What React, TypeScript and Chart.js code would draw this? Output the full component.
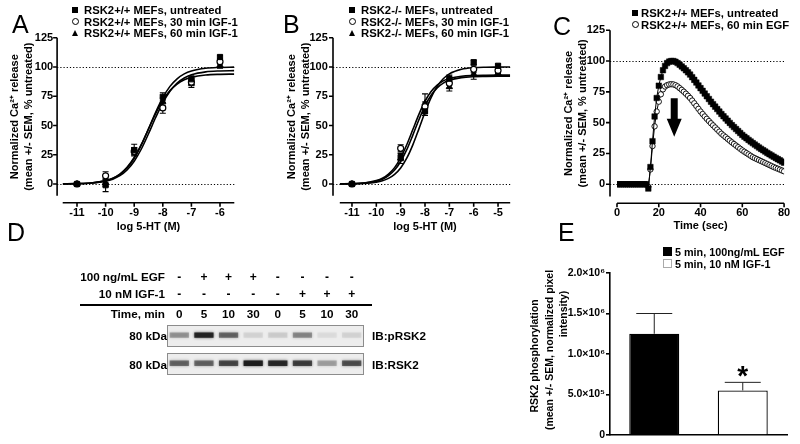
import React, { useEffect, useRef } from 'react';
import { Chart, registerables } from 'chart.js';

Chart.register(...registerables);

const FONT = '"Liberation Sans", Arial, Helvetica, sans-serif';
Chart.defaults.font.family = FONT;
Chart.defaults.color = '#000';

// ---------------- shared ----------------
const pctTicks = [0, 25, 50, 75, 100, 125];
const refLevels = [0, 100];
const CA_TITLE = ['Normalized Ca²⁺ release', '(mean +/- SEM, % untreated)'];

// ---------------- Panel A ----------------
const namesA = ['RSK2+/+ MEFs, untreated', 'RSK2+/+ MEFs, 30 min IGF-1', 'RSK2+/+ MEFs, 60 min IGF-1'];
const doseA = [-11, -10, -9, -8, -7, -6];
const aUntreated = [0, -1, 29, 74.5, 89.5, 108.5];
const aUntreatedSem = [0.6, 5.5, 5, 3.5, 3, 1.5];
const aIgf30 = [0, 7, 28, 65, 87, 104.5];
const aIgf30Sem = [0.6, 3.5, 3, 4.5, 3, 2];
const aIgf60 = [0, 1, 28, 70, 86, 101.5];
const aIgf60Sem = [0.6, 3, 3, 3.5, 3.5, 2.5];
const fitLogA = [-11.5, -11, -10.5, -10, -9.75, -9.5, -9.25, -9, -8.75, -8.5, -8.25, -8, -7.75, -7.5, -7.25, -7, -6.5, -6, -5.5];
const aFitUntreated = [0.1, 0.3, 0.9, 2.7, 4.8, 8.2, 13.7, 22.0, 33.4, 47.1, 61.3, 73.8, 83.4, 89.9, 94.1, 96.6, 98.9, 99.6, 99.9];
const aFitIgf30 = [0.1, 0.2, 0.8, 2.4, 4.1, 7.1, 12.0, 19.5, 29.9, 42.9, 56.8, 69.4, 79.3, 86.2, 90.6, 93.3, 95.8, 96.6, 96.9];
const aFitIgf60 = [0.1, 0.3, 0.9, 2.9, 5.0, 8.5, 14.2, 22.6, 33.8, 47.0, 60.2, 71.4, 79.8, 85.4, 89.0, 91.1, 93.1, 93.7, 93.9];
const logTicksA = [-11, -10, -9, -8, -7, -6];

// ---------------- Panel B ----------------
const namesB = ['RSK2-/- MEFs, untreated', 'RSK2-/- MEFs, 30 min IGF-1', 'RSK2-/- MEFs, 60 min IGF-1'];
const doseB = [-11, -9, -8, -7, -6, -5];
const bUntreated = [0, 23, 62, 90, 104, 101];
const bUntreatedSem = [0.6, 3, 3.5, 3, 2, 1.5];
const bIgf30 = [0, 30.5, 66, 86, 98, 97];
const bIgf30Sem = [0.6, 3, 4, 4, 3, 2];
const bIgf60 = [0, 22, 69, 83, 94, 95];
const bIgf60Sem = [0.6, 4.5, 8, 3.5, 4.5, 2];
const fitLogB = [-11.5, -11, -10.5, -10, -9.75, -9.5, -9.25, -9, -8.75, -8.5, -8.25, -8, -7.75, -7.5, -7.25, -7, -6.5, -6, -5.5, -5, -4.5];
const bFitUntreated = [0.1, 0.2, 0.5, 1.6, 2.7, 4.8, 8.2, 13.7, 22.0, 33.4, 47.1, 61.3, 73.8, 83.4, 89.9, 94.1, 98.0, 99.4, 99.8, 99.9, 100];
const bFitIgf30 = [0.1, 0.3, 0.9, 2.9, 4.9, 8.5, 14.0, 22.3, 33.5, 46.5, 59.5, 70.7, 79.0, 84.5, 88.1, 90.1, 92.1, 92.7, 92.9, 93.0, 93.0];
const bFitIgf60 = [0.1, 0.2, 0.8, 2.4, 4.1, 7.1, 11.9, 19.2, 29.3, 41.8, 54.9, 66.7, 75.8, 82.1, 86.2, 88.6, 90.9, 91.7, 91.9, 92.0, 92.0];
const logTicksB = [-11, -10, -9, -8, -7, -6, -5];

// ---------------- Panel C ----------------
const namesC = ['RSK2+/+ MEFs, untreated', 'RSK2+/+ MEFs, 60 min EGF'];
const cTime = [
  0, 1, 2, 3, 4, 5, 6, 7, 8, 9,
  10, 11, 12, 13, 14, 15, 16, 17, 18, 19,
  20, 21, 22, 23, 24, 25, 26, 27, 28, 29,
  30, 31, 32, 33, 34, 35, 36, 37, 38, 39,
  40, 41, 42, 43, 44, 45, 46, 47, 48, 49,
  50, 51, 52, 53, 54, 55, 56, 57, 58, 59,
  60, 61, 62, 63, 64, 65, 66, 67, 68, 69,
  70, 71, 72, 73, 74, 75, 76, 77, 78, 79,
  80,
];
const cUntreated = [
  0, 0, 0, 0, 0, 0, 0, 0, 0, 0,
  0, 0, 0, 0, 0, -3.5, 14, 35, 55, 70,
  80, 87, 92.5, 96, 98.3, 99.5, 100, 100, 99.4, 98.3,
  97, 95.6, 94.1, 92.5, 90.8, 89, 86.9, 84.7, 82.5, 80.2,
  78, 75.8, 73.6, 71.4, 69.2, 67, 65, 63, 61, 59,
  57, 55.2, 53.4, 51.6, 49.8, 48, 46.4, 44.8, 43.2, 41.6,
  40, 38.6, 37.3, 36, 34.7, 33.4, 32.2, 31, 29.8, 28.7,
  27.6, 26.5, 25.4, 24.4, 23.4, 22.4, 21.4, 20.4, 19.4, 18.4,
  17.5,
];
const cEgf = [
  0, 0, 0, 0, 0, 0, 0, 0, 0, 0,
  0, 0, 0, 0, 0, -2, 12, 31, 47, 59,
  67, 73, 77, 79.3, 80.4, 81, 81.2, 81, 80.4, 79.4,
  78, 76.6, 75.1, 73.5, 71.8, 70, 67.9, 65.7, 63.5, 61.2,
  59, 57, 55, 53.1, 51.3, 49.5, 47.8, 46.1, 44.4, 42.7,
  41, 39.6, 38.2, 36.8, 35.4, 34, 32.7, 31.4, 30.1, 28.8,
  27.5, 26.4, 25.3, 24.2, 23.1, 22, 21.2, 20.4, 19.6, 18.8,
  18, 17.2, 16.4, 15.6, 14.8, 14, 13.3, 12.6, 11.9, 11.2,
  10.5,
];
const timeTicks = [0, 20, 40, 60, 80];

// ---------------- Panel D ----------------
const laneIds = ['1', '2', '3', '4', '5', '6', '7', '8'];
const egfRow = ['-', '+', '+', '+', '-', '-', '-', '-'];
const igfRow = ['-', '-', '-', '-', '-', '+', '+', '+'];
const timeRow = ['0', '5', '10', '30', '0', '5', '10', '30'];
const pRsk2Band = [0.3, 0.9, 0.5, 0.08, 0.1, 0.35, 0.05, 0.08];
const rsk2Band = [0.5, 0.5, 0.65, 0.95, 0.85, 0.7, 0.25, 0.6];
const pBandSpan = [0.42, 0.66];
const tBandSpan = [0.41, 0.66];

// ---------------- Panel E ----------------
const eGroups = ['5 min, 100ng/mL EGF', '5 min, 10 nM IGF-1'];
const ePhospho = [1250000, 550000];
const ePhosphoSem = [250000, 100000];
const eTicks = [0, 500000, 1000000, 1500000, 2000000];
const eTickLabels = ['0', '5.0×10⁵', '1.0×10⁶', '1.5×10⁶', '2.0×10⁶'];
const E_TITLE = ['RSK2 phosphorylation', '(mean +/- SEM, normalized pixel', 'intensity)'];

// ---------------- geometry ----------------
type Geo = { x0: number; y0: number; w: number; h: number; l: number; t: number; r: number; b: number };
const GEO_A: Geo = { x0: 0, y0: 0, w: 270, h: 240, l: 62.7, t: 37.7, r: 234.3, b: 195.7 };
const GEO_B: Geo = { x0: 270, y0: 0, w: 270, h: 240, l: 339.8, t: 37.7, r: 510.2, b: 195.7 };
const GEO_C: Geo = { x0: 540, y0: 0, w: 260, h: 240, l: 617, t: 30.2, r: 787, b: 196.6 };
const GEO_E: Geo = { x0: 520, y0: 230, w: 280, h: 214, l: 610, t: 273, r: 787, b: 435 };
const BOX_BLOT1 = { x0: 167, y0: 325, w: 197, h: 22 };
const BOX_BLOT2 = { x0: 167, y0: 353, w: 197, h: 22 };
const E_TITLE_POS = [
  { x: 534, y: 356 },
  { x: 549, y: 350 },
  { x: 562.5, y: 314 },
];

const TICK_FONT = { family: FONT, size: 11, weight: 'bold' as const };
const TITLE_FONT = { family: FONT, size: 11, weight: 'bold' as const, lineHeight: 1.3 };

// ---------------- plugins ----------------
const gpAxes = {
  id: 'gpAxes',
  beforeDatasetsDraw(chart: any, _a: any, o: any) {
    if (!o || !o.on) return;
    const { ctx, chartArea: ca, scales } = chart;
    const xs = scales.x;
    const ys = scales.y;
    const ax = ca.left - o.gapY;
    const ay = ca.bottom + o.gapX;
    ctx.save();
    ctx.strokeStyle = '#000';
    ctx.lineWidth = 1;
    ctx.setLineDash([1.2, 2]);
    (o.refLines || []).forEach((v: number) => {
      const py = Math.round(ys.getPixelForValue(v)) + 0.5;
      ctx.beginPath();
      ctx.moveTo(ax, py);
      ctx.lineTo(ca.right, py);
      ctx.stroke();
    });
    ctx.setLineDash([]);
    ctx.lineWidth = 1.6;
    ctx.beginPath();
    ctx.moveTo(ax, ca.top);
    ctx.lineTo(ax, ca.bottom);
    ys.ticks.forEach((t: any) => {
      const py = ys.getPixelForValue(t.value);
      ctx.moveTo(ax - o.tick, py);
      ctx.lineTo(ax, py);
    });
    ctx.moveTo(ca.left, ay);
    ctx.lineTo(ca.right, ay);
    xs.ticks.forEach((t: any) => {
      const px = xs.getPixelForValue(t.value);
      ctx.moveTo(px, ay);
      ctx.lineTo(px, ay + o.tick);
    });
    ctx.stroke();
    ctx.restore();
  },
};

const errBars = {
  id: 'errBars',
  beforeDatasetsDraw(chart: any, _a: any, o: any) {
    const { ctx } = chart;
    ctx.save();
    ctx.strokeStyle = (o && o.color) || '#000';
    ctx.lineWidth = (o && o.width) || 1;
    const cap = (o && o.cap) || 3;
    chart.data.datasets.forEach((ds: any, i: number) => {
      if (!ds.sem) return;
      const meta = chart.getDatasetMeta(i);
      const ys = chart.scales[meta.yAxisID];
      meta.data.forEach((el: any, j: number) => {
        const raw = ds.data[j];
        const v = typeof raw === 'number' ? raw : raw.y;
        const s = ds.sem[j];
        if (!s) return;
        const top = ys.getPixelForValue(v + s);
        const bot = ys.getPixelForValue(ds.upOnly ? v : v - s);
        ctx.beginPath();
        ctx.moveTo(el.x, top);
        ctx.lineTo(el.x, bot);
        ctx.moveTo(el.x - cap, top);
        ctx.lineTo(el.x + cap, top);
        if (!ds.upOnly) {
          ctx.moveTo(el.x - cap, bot);
          ctx.lineTo(el.x + cap, bot);
        }
        ctx.stroke();
      });
    });
    ctx.restore();
  },
};

const downArrow = {
  id: 'downArrow',
  afterDatasetsDraw(chart: any, _a: any, o: any) {
    if (!o || o.x === undefined) return;
    const { ctx, scales } = chart;
    const px = scales.x.getPixelForValue(o.x);
    const y0 = scales.y.getPixelForValue(o.from);
    const y1 = scales.y.getPixelForValue(o.to);
    const sw = o.shaft / 2;
    const hw = o.head / 2;
    ctx.save();
    ctx.fillStyle = '#000';
    ctx.beginPath();
    ctx.moveTo(px - sw, y0);
    ctx.lineTo(px + sw, y0);
    ctx.lineTo(px + sw, y1 - o.headLen);
    ctx.lineTo(px + hw, y1 - o.headLen);
    ctx.lineTo(px, y1);
    ctx.lineTo(px - hw, y1 - o.headLen);
    ctx.lineTo(px - sw, y1 - o.headLen);
    ctx.closePath();
    ctx.fill();
    ctx.restore();
  },
};

const starMark = {
  id: 'starMark',
  afterDatasetsDraw(chart: any, _a: any, o: any) {
    if (!o || o.index === undefined) return;
    const { ctx } = chart;
    const ds = chart.data.datasets[0];
    const el = chart.getDatasetMeta(0).data[o.index];
    const py = chart.scales.y.getPixelForValue(ds.data[o.index] + ds.sem[o.index]);
    ctx.save();
    ctx.fillStyle = '#000';
    ctx.font = `bold ${o.size}px ${FONT}`;
    ctx.textAlign = 'center';
    ctx.textBaseline = 'alphabetic';
    ctx.fillText(o.text, el.x, py + o.dy);
    ctx.restore();
  },
};

const blotBg = {
  id: 'blotBg',
  beforeDraw(chart: any, _a: any, o: any) {
    if (!o || !o.on) return;
    const { ctx, width, height } = chart;
    ctx.save();
    ctx.fillStyle = o.bg;
    ctx.fillRect(0, 0, width, height);
    ctx.strokeStyle = o.border;
    ctx.lineWidth = 1;
    ctx.strokeRect(0.5, 0.5, width - 1, height - 1);
    ctx.restore();
  },
  beforeDatasetsDraw(chart: any, _a: any, o: any) {
    if (!o || !o.on) return;
    chart.ctx.save();
    chart.ctx.shadowColor = o.shadow;
    chart.ctx.shadowBlur = o.blur;
  },
  afterDatasetsDraw(chart: any, _a: any, o: any) {
    if (!o || !o.on) return;
    chart.ctx.restore();
  },
};

// ---------------- configs ----------------
function frame(g: Geo) {
  return {
    responsive: false,
    animation: false as const,
    devicePixelRatio: 1,
    events: [] as any[],
    layout: { padding: { left: 0, top: g.t - g.y0, right: g.x0 + g.w - g.r, bottom: 0 } },
  };
}

const MARKERS: Record<string, any> = {
  square: { pointStyle: 'rect', pointRadius: 3.7, backgroundColor: '#000', borderColor: '#000', borderWidth: 1 },
  circle: { pointStyle: 'circle', pointRadius: 3, backgroundColor: '#fff', borderColor: '#000', borderWidth: 1.2 },
  triangle: { pointStyle: 'triangle', pointRadius: 3.6, backgroundColor: '#000', borderColor: '#000', borderWidth: 1 },
};

type Series = { label: string; values: number[]; sem: number[]; marker: string };

function doseChart(g: Geo, p: {
  dose: number[]; series: Series[]; fitX: number[]; fits: number[][];
  xMin: number; xMax: number; xTicks: number[]; gapY: number; gapX: number;
  yTickPad: number; xTickPad: number; yTitlePad: number; xTitlePad: number;
}) {
  const datasets: any[] = p.series.map((s) => ({
    label: s.label,
    data: p.dose.map((x, i) => ({ x, y: s.values[i] })),
    sem: s.sem,
    showLine: false,
    ...MARKERS[s.marker],
  }));
  p.fits.forEach((f) =>
    datasets.push({
      data: p.fitX.map((x, i) => ({ x, y: f[i] })),
      showLine: true,
      pointRadius: 0,
      borderColor: '#000',
      borderWidth: 1.6,
      cubicInterpolationMode: 'monotone',
      fill: false,
    })
  );
  return {
    type: 'scatter',
    data: { datasets },
    options: {
      ...frame(g),
      plugins: {
        legend: { display: false },
        tooltip: { enabled: false },
        gpAxes: { on: true, gapY: p.gapY, gapX: p.gapX, tick: 4, refLines: refLevels },
        errBars: { cap: 3, width: 1.1 },
      },
      scales: {
        x: {
          type: 'linear', min: p.xMin, max: p.xMax,
          afterBuildTicks: (s: any) => { s.ticks = p.xTicks.map((v) => ({ value: v })); },
          grid: { display: false, drawTicks: false },
          border: { display: false },
          ticks: { padding: p.xTickPad, font: TICK_FONT, color: '#000', maxRotation: 0, autoSkip: false, callback: (v: any) => String(v) },
          title: { display: true, text: 'log 5-HT (M)', font: TITLE_FONT, color: '#000', padding: { top: 0, bottom: p.xTitlePad } },
          afterFit: (s: any) => { s.height = g.y0 + g.h - g.b; },
        },
        y: {
          type: 'linear', min: -10, max: 125,
          afterBuildTicks: (s: any) => { s.ticks = pctTicks.map((v) => ({ value: v })); },
          grid: { display: false, drawTicks: false },
          border: { display: false },
          ticks: { padding: p.yTickPad, font: TICK_FONT, color: '#000', callback: (v: any) => String(v) },
          title: { display: true, text: CA_TITLE, font: TITLE_FONT, color: '#000', padding: { top: p.yTitlePad, bottom: 0 } },
          afterFit: (s: any) => { s.width = g.l - g.x0; },
        },
      },
    },
    plugins: [gpAxes, errBars],
  };
}

function makeA() {
  return doseChart(GEO_A, {
    dose: doseA,
    series: [
      { label: namesA[0], values: aUntreated, sem: aUntreatedSem, marker: 'square' },
      { label: namesA[1], values: aIgf30, sem: aIgf30Sem, marker: 'circle' },
      { label: namesA[2], values: aIgf60, sem: aIgf60Sem, marker: 'triangle' },
    ],
    fitX: fitLogA, fits: [aFitUntreated, aFitIgf30, aFitIgf60],
    xMin: -11.5, xMax: -5.5, xTicks: logTicksA, gapY: 5.6, gapX: 7,
    yTickPad: 9.5, xTickPad: 10.2, yTitlePad: 7.5, xTitlePad: 5.5,
  });
}

function makeB() {
  return doseChart(GEO_B, {
    dose: doseB,
    series: [
      { label: namesB[0], values: bUntreated, sem: bUntreatedSem, marker: 'square' },
      { label: namesB[1], values: bIgf30, sem: bIgf30Sem, marker: 'circle' },
      { label: namesB[2], values: bIgf60, sem: bIgf60Sem, marker: 'triangle' },
    ],
    fitX: fitLogB, fits: [bFitUntreated, bFitIgf30, bFitIgf60],
    xMin: -11.5, xMax: -4.5, xTicks: logTicksB, gapY: 6.8, gapX: 7,
    yTickPad: 12, xTickPad: 10.2, yTitlePad: 14.5, xTitlePad: 5.5,
  });
}

function makeC() {
  const g = GEO_C;
  return {
    type: 'scatter',
    data: {
      datasets: [
        {
          label: namesC[0],
          data: cTime.map((x, i) => ({ x, y: cUntreated[i] })),
          showLine: true, borderColor: '#000', borderWidth: 1,
          pointStyle: 'rect', pointRadius: 3.9, pointBackgroundColor: '#000', pointBorderColor: '#000', pointBorderWidth: 0.5,
        },
        {
          label: namesC[1],
          data: cTime.map((x, i) => ({ x, y: cEgf[i] })),
          showLine: true, borderColor: '#000', borderWidth: 1,
          pointStyle: 'circle', pointRadius: 2.7, pointBackgroundColor: '#fff', pointBorderColor: '#000', pointBorderWidth: 0.9,
        },
      ],
    },
    options: {
      ...frame(g),
      plugins: {
        legend: { display: false },
        tooltip: { enabled: false },
        gpAxes: { on: true, gapY: 7, gapX: 6.7, tick: 4, refLines: refLevels },
        downArrow: { x: 27.4, from: 69.7, to: 38.6, shaft: 7, head: 15, headLen: 18 },
      },
      scales: {
        x: {
          type: 'linear', min: 0, max: 80,
          afterBuildTicks: (s: any) => { s.ticks = timeTicks.map((v) => ({ value: v })); },
          grid: { display: false, drawTicks: false },
          border: { display: false },
          ticks: { padding: 9.8, font: TICK_FONT, color: '#000', maxRotation: 0, autoSkip: false, callback: (v: any) => String(v) },
          title: { display: true, text: 'Time (sec)', font: TITLE_FONT, color: '#000', padding: { top: 0, bottom: 6.5 } },
          afterFit: (s: any) => { s.height = g.y0 + g.h - g.b; },
        },
        y: {
          type: 'linear', min: -10, max: 125,
          afterBuildTicks: (s: any) => { s.ticks = pctTicks.map((v) => ({ value: v })); },
          grid: { display: false, drawTicks: false },
          border: { display: false },
          ticks: { padding: 12, font: TICK_FONT, color: '#000', callback: (v: any) => String(v) },
          title: { display: true, text: CA_TITLE, font: TITLE_FONT, color: '#000', padding: { top: 21.5, bottom: 0 } },
          afterFit: (s: any) => { s.width = g.l - g.x0; },
        },
      },
    },
    plugins: [gpAxes, downArrow],
  };
}

function makeE() {
  const g = GEO_E;
  return {
    type: 'bar',
    data: {
      labels: eGroups,
      datasets: [
        {
          data: ePhospho, sem: ePhosphoSem, upOnly: true,
          backgroundColor: ['#000', '#fff'], borderColor: '#000', borderWidth: 1.3,
          barPercentage: 0.565, categoryPercentage: 1,
        },
      ],
    },
    options: {
      ...frame(g),
      plugins: {
        legend: { display: false },
        tooltip: { enabled: false },
        errBars: { cap: 18, width: 1, color: '#222' },
        starMark: { index: 1, text: '*', size: 28, dy: 3 },
      },
      scales: {
        x: {
          grid: { display: false, drawTicks: false },
          border: { display: true, color: '#000', width: 1.6 },
          ticks: { display: false },
          afterFit: (s: any) => { s.height = g.y0 + g.h - g.b; },
        },
        y: {
          min: 0, max: 2000000,
          afterBuildTicks: (s: any) => { s.ticks = eTicks.map((v) => ({ value: v })); },
          grid: { drawOnChartArea: false, drawTicks: true, tickLength: 4, color: '#000', lineWidth: 1.6 },
          border: { display: true, color: '#000', width: 1.6 },
          ticks: { padding: 1, font: { ...TICK_FONT, size: 10.5 }, color: '#000', callback: (v: any) => { const k = eTicks.indexOf(v); return k >= 0 ? eTickLabels[k] : ''; } },
          afterFit: (s: any) => { s.width = g.l - g.x0; },
        },
      },
    },
    plugins: [errBars, starMark],
  };
}

function makeBlot(intensity: number[], span: number[]) {
  return {
    type: 'bar',
    data: {
      labels: laneIds,
      datasets: [
        {
          data: intensity.map(() => span),
          backgroundColor: intensity.map((a) => `rgba(25,25,25,${a})`),
          borderWidth: 0,
          barPercentage: 0.78,
          categoryPercentage: 1,
        },
      ],
    },
    options: {
      responsive: false,
      animation: false as const,
      devicePixelRatio: 1,
      events: [] as any[],
      layout: { padding: 0 },
      plugins: {
        legend: { display: false },
        tooltip: { enabled: false },
        blotBg: { on: true, bg: '#ededed', border: '#8c8c8c', shadow: 'rgba(0,0,0,0.7)', blur: 3 },
      },
      scales: { x: { display: false }, y: { display: false, min: 0, max: 1 } },
    },
    plugins: [blotBg],
  };
}

// ---------------- components ----------------
function ChartCanvas({ box, make }: { box: { x0: number; y0: number; w: number; h: number }; make: () => any }) {
  const ref = useRef<HTMLCanvasElement | null>(null);
  useEffect(() => {
    if (!ref.current) return;
    const chart = new Chart(ref.current, make());
    return () => chart.destroy();
  }, []);
  return (
    <canvas
      ref={ref}
      width={box.w}
      height={box.h}
      style={{ position: 'absolute', left: box.x0, top: box.y0, width: box.w, height: box.h }}
    />
  );
}

function Txt({ x, y, text, align = 'left', size = 11, weight = 'bold' }: { x: number; y: number; text: string; align?: string; size?: number; weight?: string }) {
  const base: any = {
    position: 'absolute', top: y - 8, height: 16, lineHeight: '16px', fontSize: size, fontWeight: weight,
    whiteSpace: 'nowrap', color: '#000', fontFamily: FONT,
  };
  if (align === 'left') base.left = x;
  else if (align === 'right') base.right = 800 - x;
  else { base.left = x - 30; base.width = 60; base.textAlign = 'center'; }
  return <div style={base}>{text}</div>;
}

function VTxt({ x, y, text, size = 10.5 }: { x: number; y: number; text: string; size?: number }) {
  return (
    <div
      style={{
        position: 'absolute', left: x, top: y, transform: 'translate(-50%, -50%) rotate(-90deg)',
        whiteSpace: 'nowrap', fontSize: size, lineHeight: '14px', fontWeight: 'bold', fontFamily: FONT, color: '#000',
      }}
    >
      {text}
    </div>
  );
}

function Marker({ kind, x, y }: { kind: string; x: number; y: number }) {
  if (kind === 'square') return <div style={{ position: 'absolute', left: x - 3, top: y - 3, width: 6, height: 6, background: '#000' }} />;
  if (kind === 'circle')
    return <div style={{ position: 'absolute', left: x - 3.5, top: y - 3.5, width: 7, height: 7, boxSizing: 'border-box', border: '1.2px solid #000', borderRadius: '50%', background: '#fff' }} />;
  if (kind === 'triangle')
    return <div style={{ position: 'absolute', left: x - 3.5, top: y - 3.5, width: 0, height: 0, borderLeft: '3.5px solid transparent', borderRight: '3.5px solid transparent', borderBottom: '6.5px solid #000' }} />;
  if (kind === 'boxBlack')
    return <div style={{ position: 'absolute', left: x - 4.5, top: y - 4.5, width: 9, height: 9, background: '#000' }} />;
  return <div style={{ position: 'absolute', left: x - 4.5, top: y - 4.5, width: 9, height: 9, boxSizing: 'border-box', border: '1px solid #aaa', background: '#fff' }} />;
}

function Legend({ x, tx, ys, names, kinds, size = 11.3 }: { x: number; tx: number; ys: number[]; names: string[]; kinds: string[]; size?: number }) {
  return (
    <>
      {names.map((n, i) => (
        <React.Fragment key={n + i}>
          <Marker kind={kinds[i]} x={x} y={ys[i]} />
          <Txt x={tx} y={ys[i]} text={n} size={size} />
        </React.Fragment>
      ))}
    </>
  );
}

function Letter({ ch, x, capTop }: { ch: string; x: number; capTop: number }) {
  return (
    <div style={{ position: 'absolute', left: x, top: capTop - 3.3, fontSize: 25, lineHeight: '25px', fontFamily: FONT, fontWeight: 'normal', color: '#000' }}>{ch}</div>
  );
}

export default function App() {
  const laneX = (i: number) => BOX_BLOT1.x0 + (BOX_BLOT1.w / laneIds.length) * (i + 0.5);
  return (
    <div style={{ position: 'absolute', left: 0, top: 0, width: 800, height: 444, background: '#fff', overflow: 'hidden', fontFamily: FONT }}>
      <ChartCanvas box={GEO_A} make={makeA} />
      <ChartCanvas box={GEO_B} make={makeB} />
      <ChartCanvas box={GEO_C} make={makeC} />
      <ChartCanvas box={GEO_E} make={makeE} />
      <ChartCanvas box={BOX_BLOT1} make={() => makeBlot(pRsk2Band, pBandSpan)} />
      <ChartCanvas box={BOX_BLOT2} make={() => makeBlot(rsk2Band, tBandSpan)} />

      <Letter ch="A" x={12} capTop={15} />
      <Letter ch="B" x={283} capTop={15} />
      <Letter ch="C" x={553} capTop={17} />
      <Letter ch="D" x={7} capTop={223} />
      <Letter ch="E" x={558} capTop={223} />

      <Legend x={75} tx={84} ys={[10, 21.7, 33.3]} names={namesA} kinds={['square', 'circle', 'triangle']} />
      <Legend x={352} tx={361} ys={[10, 21.7, 33.3]} names={namesB} kinds={['square', 'circle', 'triangle']} />
      <Legend x={635} tx={641} ys={[13, 24.5]} names={namesC} kinds={['square', 'circle']} />
      <Legend x={667.5} tx={675} ys={[251.5, 263.5]} names={eGroups} kinds={['boxBlack', 'boxWhite']} size={10.8} />

      {E_TITLE.map((t, i) => (
        <VTxt key={t} x={E_TITLE_POS[i].x} y={E_TITLE_POS[i].y} text={t} />
      ))}

      <Txt x={165} y={276.7} text="100 ng/mL EGF" align="right" size={11.7} />
      <Txt x={165} y={294.3} text="10 nM IGF-1" align="right" size={11.7} />
      <div style={{ position: 'absolute', left: 80, top: 304.2, width: 292, height: 1.6, background: '#000' }} />
      <Txt x={165} y={314.3} text="Time, min" align="right" size={11.7} />
      {laneIds.map((id, i) => (
        <React.Fragment key={id}>
          <Txt x={laneX(i)} y={276.7} text={egfRow[i]} align="center" size={12} />
          <Txt x={laneX(i)} y={294.3} text={igfRow[i]} align="center" size={12} />
          <Txt x={laneX(i)} y={314.3} text={timeRow[i]} align="center" size={11.7} />
        </React.Fragment>
      ))}
      <Txt x={167} y={336} text="80 kDa" align="right" size={11.7} />
      <Txt x={167} y={365} text="80 kDa" align="right" size={11.7} />
      <Txt x={372} y={336} text="IB:pRSK2" size={11.7} />
      <Txt x={372} y={365} text="IB:RSK2" size={11.7} />
    </div>
  );
}
